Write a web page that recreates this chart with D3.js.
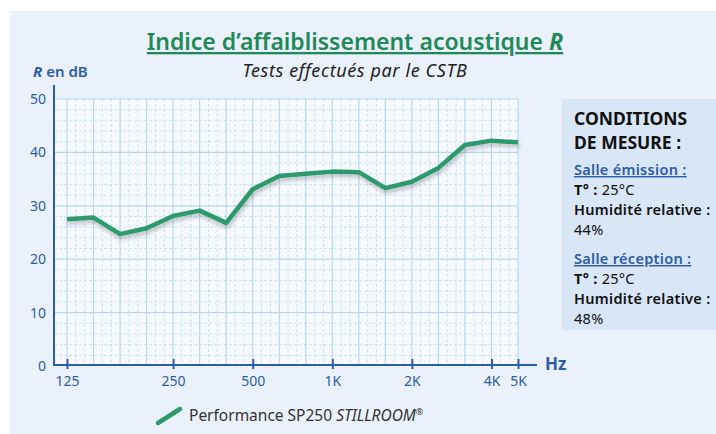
<!DOCTYPE html>
<html>
<head>
<meta charset="utf-8">
<script src="https://cdn.jsdelivr.net/npm/d3@7"></script>
<style>
  body { margin: 0; background: #fff; }
  svg { display: block; font-family: "Noto Sans", sans-serif; }
</style>
</head>
<body>
<svg id="drawing_region"></svg>
<script>
// third-octave bands drawn on the chart (index along x), labelled ones only
const tickIndex = [0, 4, 7, 10, 13, 16, 17];
const tickLabels = ["125", "250", "500", "1K", "2K", "4K", "5K"];
const bandCount = 18;
// R values in dB, one per band
const rValues = [27.5, 27.8, 24.7, 25.8, 28.1, 29.1, 26.8, 33.1, 35.6, 36.0, 36.4, 36.3, 33.3, 34.5, 37.1, 41.4, 42.2, 41.9];
const yTicks = [0, 10, 20, 30, 40, 50];

const W = 716, H = 434;
const blue = "#2b5ea6", green = "#2e9a6c";

const svg = d3.select("#drawing_region").attr("width", W).attr("height", H);

// panel background
svg.append("rect").attr("x", 10).attr("y", 11).attr("width", W - 10).attr("height", H - 11).attr("fill", "#eaf1fb");

const plot = { left: 54, right: 518, top: 99, bottom: 366 };

const xscale = d3.scaleLinear().domain([0, bandCount - 1]).range([67, plot.right]);
const yscale = d3.scaleLinear().domain([0, 50]).range([plot.bottom, plot.top]);

// plot area
svg.append("rect")
  .attr("x", plot.left).attr("y", plot.top)
  .attr("width", plot.right - plot.left).attr("height", plot.bottom - plot.top)
  .attr("fill", "#f6faff");

const grid = svg.append("g");
// minor grid (dashed)
const minorX = [];
for (let i = 0; i < bandCount - 1; i++) { minorX.push(i + 1 / 3, i + 2 / 3); }
grid.selectAll(".vminor").data(minorX).enter().append("line")
  .attr("x1", d => xscale(d)).attr("x2", d => xscale(d))
  .attr("y1", plot.top).attr("y2", plot.bottom)
  .attr("stroke", "#c9e2f7").attr("stroke-width", 1).attr("stroke-dasharray", "3,2");
grid.selectAll(".hminor").data(d3.range(2, 50, 2).filter(v => v % 10 !== 0)).enter().append("line")
  .attr("x1", plot.left).attr("x2", plot.right)
  .attr("y1", d => yscale(d)).attr("y2", d => yscale(d))
  .attr("stroke", "#c9e2f7").attr("stroke-width", 1).attr("stroke-dasharray", "3,2");
// major grid
grid.selectAll(".vmajor").data(d3.range(bandCount)).enter().append("line")
  .attr("x1", d => xscale(d)).attr("x2", d => xscale(d))
  .attr("y1", plot.top).attr("y2", plot.bottom)
  .attr("stroke", "#b6d8f3").attr("stroke-width", 1.2);
grid.selectAll(".hmajor").data(yTicks.filter(v => v > 0)).enter().append("line")
  .attr("x1", plot.left).attr("x2", plot.right)
  .attr("y1", d => yscale(d)).attr("y2", d => yscale(d))
  .attr("stroke", "#b6d8f3").attr("stroke-width", 1.2);

// shadow filter for the curve
const defs = svg.append("defs");
defs.append("filter").attr("id", "shadow")
  .attr("x", "-10%").attr("y", "-30%").attr("width", "120%").attr("height", "160%")
  .append("feDropShadow")
  .attr("dx", 1).attr("dy", 3).attr("stdDeviation", 2)
  .attr("flood-color", "#000").attr("flood-opacity", 0.25);

// the curve
const line = d3.line().x((d, i) => xscale(i)).y(d => yscale(d));
svg.append("path").datum(rValues)
  .attr("d", line)
  .attr("fill", "none")
  .attr("stroke", green)
  .attr("stroke-width", 4.5)
  .attr("stroke-linejoin", "round")
  .attr("filter", "url(#shadow)");

// axes
const xaxis = d3.axisBottom(xscale)
  .tickValues(tickIndex)
  .tickFormat((d, i) => tickLabels[i])
  .tickSize(0)
  .tickPadding(11);
const xg = svg.append("g").attr("transform", `translate(0, ${plot.bottom - 1})`).call(xaxis);
xg.select(".domain").remove();
xg.selectAll("text").attr("fill", blue).attr("font-size", 14).attr("font-family", "Noto Sans");
xg.selectAll(".tick").append("line").attr("y1", -6).attr("y2", 4).attr("stroke", blue).attr("stroke-width", 2);
svg.append("line")
  .attr("x1", plot.left).attr("x2", 537)
  .attr("y1", plot.bottom - 1).attr("y2", plot.bottom - 1)
  .attr("stroke", blue).attr("stroke-width", 2);
svg.append("text").attr("x", 545).attr("y", 370)
  .attr("fill", blue).attr("font-size", 17).attr("font-weight", "bold").text("Hz");

const yaxis = d3.axisLeft(yscale).tickValues(yTicks).tickSize(0).tickPadding(8);
const yg = svg.append("g").attr("transform", `translate(${plot.left}, 0)`).call(yaxis);
yg.select(".domain").remove();
yg.selectAll("text").attr("fill", blue).attr("font-size", 14).attr("font-family", "Noto Sans");
svg.append("line")
  .attr("x1", plot.left).attr("x2", plot.left)
  .attr("y1", 85).attr("y2", plot.bottom)
  .attr("stroke", blue).attr("stroke-width", 2);

const ylab = svg.append("text").attr("x", 33).attr("y", 77)
  .attr("fill", blue).attr("font-size", 15).attr("font-weight", 600);
ylab.append("tspan").attr("font-style", "italic").attr("font-weight", "bold").text("R");
ylab.append("tspan").text(" en dB");

// titles
const title = svg.append("text").attr("x", 355).attr("y", 50)
  .attr("text-anchor", "middle").attr("fill", "#1f8a57")
  .attr("font-size", 23).attr("font-weight", 600)
  .attr("text-decoration", "underline");
title.append("tspan").text("Indice d\u2019affaiblissement acoustique ");
title.append("tspan").attr("font-style", "italic").attr("font-weight", "bold").text("R");

svg.append("text").attr("x", 355).attr("y", 77)
  .attr("text-anchor", "middle").attr("fill", "#222")
  .attr("font-size", 18).attr("font-style", "italic").attr("letter-spacing", 0.6)
  .text("Tests effectués par le CSTB");

// measurement conditions box
svg.append("rect").attr("x", 562).attr("y", 99).attr("width", W - 562).attr("height", 231).attr("fill", "#d9e6f6");
const cond = svg.append("g").attr("transform", "translate(574, 0)");
cond.append("text").attr("y", 125).attr("font-size", 17.5).attr("font-weight", "bold").attr("fill", "#111").text("CONDITIONS");
cond.append("text").attr("y", 149).attr("font-size", 17.5).attr("font-weight", "bold").attr("fill", "#111").text("DE MESURE :");

const rooms = [
  { name: "Salle émission :", temp: "25°C", hum: "44%" },
  { name: "Salle réception :", temp: "25°C", hum: "48%" }
];
rooms.forEach((r, i) => {
  const y0 = 175 + i * 89;
  const fs = 14.5, ls = 0.3;
  cond.append("text").attr("y", y0).attr("font-size", fs).attr("letter-spacing", ls).attr("font-weight", 600)
    .attr("fill", blue).attr("text-decoration", "underline").text(r.name);
  const t = cond.append("text").attr("y", y0 + 20).attr("font-size", fs).attr("letter-spacing", ls).attr("fill", "#111");
  t.append("tspan").attr("font-weight", "bold").text("T° : ");
  t.append("tspan").text(r.temp);
  cond.append("text").attr("y", y0 + 40).attr("font-size", fs).attr("letter-spacing", ls).attr("font-weight", 600).attr("fill", "#111").text("Humidité relative :");
  cond.append("text").attr("y", y0 + 60).attr("font-size", fs).attr("letter-spacing", ls).attr("fill", "#111").text(r.hum);
});

// legend
svg.append("line").attr("x1", 158).attr("y1", 423).attr("x2", 180).attr("y2", 409)
  .attr("stroke", green).attr("stroke-width", 4.5).attr("stroke-linecap", "round");
const leg = svg.append("text").attr("x", 189).attr("y", 421).attr("font-size", 15.5).attr("fill", "#333");
leg.append("tspan").text("Performance SP250 ");
leg.append("tspan").attr("font-style", "italic").text("STILLROOM");
leg.append("tspan").attr("font-size", 9).attr("dy", -6).text("®");
</script>
</body>
</html>
